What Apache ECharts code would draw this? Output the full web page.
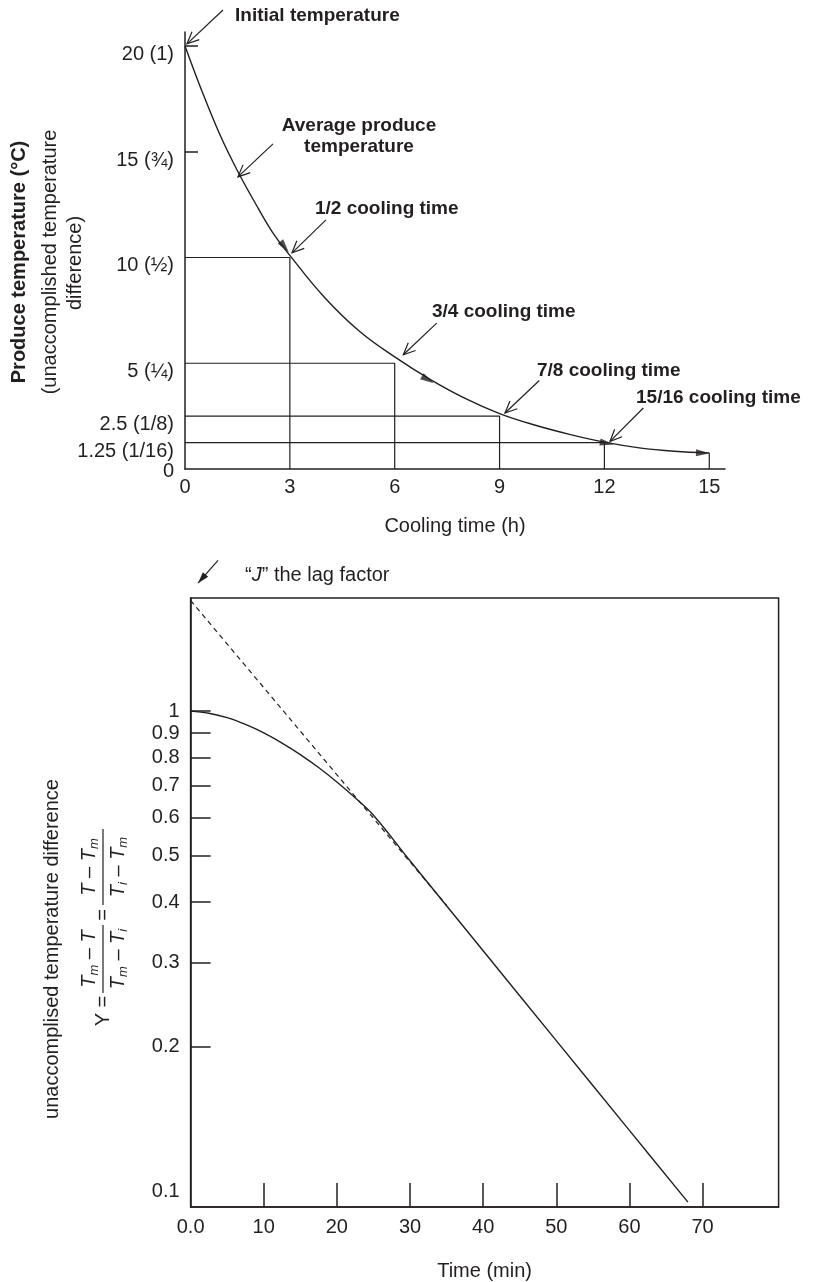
<!DOCTYPE html>
<html>
<head>
<meta charset="utf-8">
<script src="https://cdn.jsdelivr.net/npm/echarts@6/dist/echarts.min.js"></script>
<style>
html, body { margin: 0; padding: 0; background: #fff; }
#main { width: 814px; height: 1282px; }
</style>
</head>
<body>
<div id="main"></div>
<script>
var INK = '#231f20';
var FONT = '"Liberation Sans", Arial, Helvetica, sans-serif';

// --- top chart: produce cooling curve ---
var coolHours = [0, 0.5, 1, 1.5, 2, 2.5, 3, 4, 5, 6, 7, 8, 9, 10, 11, 12, 13, 14, 15];
var coolTemp  = [20, 17.8, 15.8, 14.1, 12.6, 11.2, 10.1, 8.1, 6.5, 5.3, 4.25, 3.35, 2.62, 2.08, 1.64, 1.27, 1.0, 0.84, 0.76];
var halfTimes  = [3, 6, 9, 12];
var halfLevels = [10, 5, 2.5, 1.25];
var endHour = 15;
var endTemp = 0.76;
var hourTicks = [0, 3, 6, 9, 12, 15];
var tempTicks = [0, 1.25, 2.5, 5, 10, 15, 20];
var tempTickLabels = ['0', '1.25 (1/16)', '2.5 (1/8)', '5 (\u00bc)', '10 (\u00bd)', '15 (\u00be)', '20 (1)'];
var tempMinorTicks = [15, 20];

// --- bottom chart: semi-log lag plot ---
var lagMinutes = [0, 2.5, 5, 7.5, 10, 12.5, 15, 17.5, 20, 22.5, 25, 30, 40, 50, 60, 68];
var lagY       = [1.0, 0.99, 0.969, 0.938, 0.901, 0.858, 0.812, 0.763, 0.712, 0.66, 0.607, 0.488, 0.317, 0.206, 0.134, 0.095];
var asymMinutes = [0, 35];
var asymY       = [1.70, 0.394];
var minuteTicks = [0, 10, 20, 30, 40, 50, 60, 70];
var yTickValues = [1, 0.9, 0.8, 0.7, 0.6, 0.5, 0.4, 0.3, 0.2];
var yLabelValues = [1, 0.9, 0.8, 0.7, 0.6, 0.5, 0.4, 0.3, 0.2, 0.1];

// annotation arrows (data coordinates of each grid)
var topArrows = [
  [[1.087, 21.70], [0.057, 20.10]],
  [[2.518, 15.37], [1.516, 13.81]],
  [[4.034, 11.78], [3.062, 10.22]],
  [[7.202, 6.898], [6.246, 5.40]],
  [[10.137, 4.186], [9.156, 2.646]],
  [[13.113, 2.882], [12.16, 1.304]]
];
var lagArrow = [[3.75, 2.061], [1.01, 1.847]];
var curveHeads = [
  { at: [2.85, 10.5], rot: -143 },
  { at: [6.95, 4.22], rot: -120 },
  { at: [12.07, 1.22], rot: -100 },
  { at: [14.82, 0.76], rot: -92 }
];

function zip(a, b) { return a.map(function (v, i) { return [v, b[i]]; }); }

var myChart = echarts.init(document.getElementById('main'), null, { renderer: 'canvas' });

var lineBase = { type: 'line', showSymbol: false, symbol: 'none', silent: true, lineStyle: { color: INK, width: 1.2 } };

var series = [];
series.push(Object.assign({}, lineBase, {
  xAxisIndex: 0, yAxisIndex: 0, smooth: 0.4,
  lineStyle: { color: INK, width: 1.4 },
  data: zip(coolHours, coolTemp)
}));
halfTimes.forEach(function (t, i) {
  series.push(Object.assign({}, lineBase, {
    xAxisIndex: 0, yAxisIndex: 0,
    data: [[0, halfLevels[i]], [t, halfLevels[i]], [t, 0]]
  }));
});
series.push(Object.assign({}, lineBase, {
  xAxisIndex: 0, yAxisIndex: 0,
  data: [[endHour, 0], [endHour, endTemp]]
}));
series.push({
  type: 'scatter', xAxisIndex: 0, yAxisIndex: 0, silent: true,
  symbol: 'triangle', symbolSize: [7, 14],
  itemStyle: { color: INK },
  data: curveHeads.map(function (h) { return { value: h.at, symbolRotate: h.rot }; })
});
series.push(Object.assign({}, lineBase, {
  xAxisIndex: 1, yAxisIndex: 1, smooth: 0.4,
  lineStyle: { color: INK, width: 1.4 },
  data: zip(lagMinutes, lagY)
}));
series.push(Object.assign({}, lineBase, {
  xAxisIndex: 1, yAxisIndex: 1,
  lineStyle: { color: INK, width: 1.2, type: [5, 4] },
  data: zip(asymMinutes, asymY)
}));

var axisText = { color: INK, fontSize: 20, fontFamily: FONT };

var option = {
  animation: false,
  backgroundColor: '#fff',
  grid: [
    { left: 185, top: 32, width: 540, height: 437 },
    { left: 190.6, top: 598, width: 588, height: 614, show: true, borderColor: INK, borderWidth: 1.5 }
  ],
  xAxis: [
    {
      gridIndex: 0, type: 'value', min: 0, max: 15.45,
      axisLine: { lineStyle: { color: INK, width: 1.5 } },
      axisTick: { show: false },
      splitLine: { show: false },
      axisLabel: Object.assign({ customValues: hourTicks, margin: 8 }, axisText),
      name: 'Cooling time (h)', nameLocation: 'middle', nameGap: 47,
      nameTextStyle: axisText
    },
    {
      gridIndex: 1, type: 'value', min: 0, max: 80.4,
      axisLine: { lineStyle: { color: INK, width: 1.5 } },
      axisTick: { show: true, inside: true, length: 24, customValues: minuteTicks.slice(1), lineStyle: { color: INK, width: 1.5 } },
      splitLine: { show: false },
      axisLabel: Object.assign({
        customValues: minuteTicks, margin: 10,
        formatter: function (v) { return v === 0 ? '0.0' : String(v); }
      }, axisText),
      name: 'Time (min)', nameLocation: 'middle', nameGap: 54,
      nameTextStyle: axisText
    }
  ],
  yAxis: [
    {
      gridIndex: 0, type: 'value', min: 0, max: 20.66,
      axisLine: { show: true, lineStyle: { color: INK, width: 1.5 } },
      axisTick: { show: true, inside: true, length: 13, customValues: tempMinorTicks, lineStyle: { color: INK, width: 1.5 } },
      splitLine: { show: false },
      axisLabel: Object.assign({
        customValues: tempTicks, margin: 11, verticalAlign: 'top',
        formatter: function (v) {
          return v === 0 ? '{z|0}' : '{d|' + tempTickLabels[tempTicks.indexOf(v)] + '}';
        },
        rich: {
          d: { fontSize: 20, fontFamily: FONT, color: INK, lineHeight: 17 },
          z: { fontSize: 20, fontFamily: FONT, color: INK, lineHeight: 5 }
        }
      }, axisText)
    },
    {
      gridIndex: 1, type: 'log', logBase: 10, min: 0.0928, max: 1.72,
      axisLine: { show: true, lineStyle: { color: INK, width: 1.5 } },
      axisTick: { show: true, inside: true, length: 20, customValues: yTickValues, lineStyle: { color: INK, width: 1.5 } },
      minorTick: { show: false },
      splitLine: { show: false },
      axisLabel: Object.assign({
        customValues: yLabelValues, margin: 11,
        formatter: function (v) { return String(Math.round(v * 10) / 10); }
      }, axisText)
    }
  ],
  series: series
};

myChart.setOption(option);

// annotation arrows, placed through the axes
function px(gridIndex, pt) { return myChart.convertToPixel({ gridIndex: gridIndex }, pt); }
function arrow(gridIndex, seg, filled) {
  var a = px(gridIndex, seg[0]), b = px(gridIndex, seg[1]);
  var dx = b[0] - a[0], dy = b[1] - a[1], len = Math.sqrt(dx * dx + dy * dy);
  var ux = dx / len, uy = dy / len, L = filled ? 12 : 13, ang = filled ? 0.3 : 0.42;
  function head(s) {
    var c = Math.cos(s * ang), sn = Math.sin(s * ang);
    var rx = ux * c - uy * sn, ry = ux * sn + uy * c;
    return [b[0] - L * rx, b[1] - L * ry];
  }
  var out = [{ type: 'polyline', silent: true, shape: { points: [a, b] }, style: { stroke: INK, lineWidth: 1.2, fill: null } }];
  if (filled) {
    out.push({ type: 'polygon', silent: true, shape: { points: [head(1), b, head(-1)] }, style: { fill: INK } });
  } else {
    out.push({ type: 'polyline', silent: true, shape: { points: [head(1), b, head(-1)] }, style: { stroke: INK, lineWidth: 1.2, fill: null } });
  }
  return out;
}

var graphics = [];
topArrows.forEach(function (s) { graphics = graphics.concat(arrow(0, s, false)); });
graphics = graphics.concat(arrow(1, lagArrow, true));

function label(x, y, text, extra) {
  return {
    type: 'text', x: x, y: y, silent: true,
    style: Object.assign({ text: text, fill: INK, fontSize: 20, fontFamily: FONT, align: 'left', verticalAlign: 'middle' }, extra || {})
  };
}
var bold = { fontWeight: 'bold', fontSize: 19 };

graphics.push(label(235, 16, 'Initial temperature', bold));
graphics.push(label(359, 136.5, 'Average produce\ntemperature', Object.assign({ align: 'center', lineHeight: 21 }, bold)));
graphics.push(label(315, 209, '1/2 cooling time', bold));
graphics.push(label(432, 312, '3/4 cooling time', bold));
graphics.push(label(537, 371, '7/8 cooling time', bold));
graphics.push(label(636, 398, '15/16 cooling time', bold));

var rot = Math.PI / 2;
var t1 = label(19, 262, 'Produce temperature (\u00b0C)', { align: 'center', fontWeight: 'bold' }); t1.rotation = rot;
var t2 = label(50, 262, '(unaccomplished temperature', { align: 'center' }); t2.rotation = rot;
var t3 = label(75, 263, 'difference)', { align: 'center' }); t3.rotation = rot;
graphics.push(t1, t2, t3);

graphics.push(label(245, 575, '\u201c{i|J}\u201d the lag factor', {
  rich: { i: { fontStyle: 'italic', fontSize: 20, fontFamily: FONT, fill: INK } }
}));

var t4 = label(52, 949, 'unaccomplised temperature difference', { align: 'center' }); t4.rotation = rot;
graphics.push(t4);

// formula  Y = (Tm - T)/(Tm - Ti) = (T - Tm)/(Ti - Tm), written sideways
var richF = {
  i: { fontStyle: 'italic', fontSize: 20, fontFamily: FONT, fill: INK },
  s: { fontStyle: 'italic', fontSize: 13, fontFamily: FONT, fill: INK, padding: [10, 0, 0, 0] },
  n: { fontSize: 20, fontFamily: FONT, fill: INK }
};
function ftext(x, y, text) {
  return { type: 'text', x: x, y: y, silent: true,
    style: { text: text, rich: richF, fill: INK, fontSize: 20, fontFamily: FONT, align: 'center', verticalAlign: 'middle' } };
}
function fbar(x1, x2) {
  return { type: 'line', silent: true, shape: { x1: x1, y1: 0, x2: x2, y2: 0 }, style: { stroke: INK, lineWidth: 1.2 } };
}
graphics.push({
  type: 'group', x: 103, y: 929, rotation: rot,
  children: [
    ftext(-82, 0, '{n|Y =}'),
    fbar(-64, 4),
    ftext(-30, -14, '{i|T}{s|m}{n| \u2013 }{i|T}'),
    ftext(-30, 15, '{i|T}{s|m}{n| \u2013 }{i|T}{s|i}'),
    ftext(14, 0, '{n|=}'),
    fbar(24, 100),
    ftext(62, -14, '{i|T}{n| \u2013 }{i|T}{s|m}'),
    ftext(62, 15, '{i|T}{s|i}{n| \u2013 }{i|T}{s|m}')
  ]
});

myChart.setOption({ graphic: graphics });
</script>
</body>
</html>
